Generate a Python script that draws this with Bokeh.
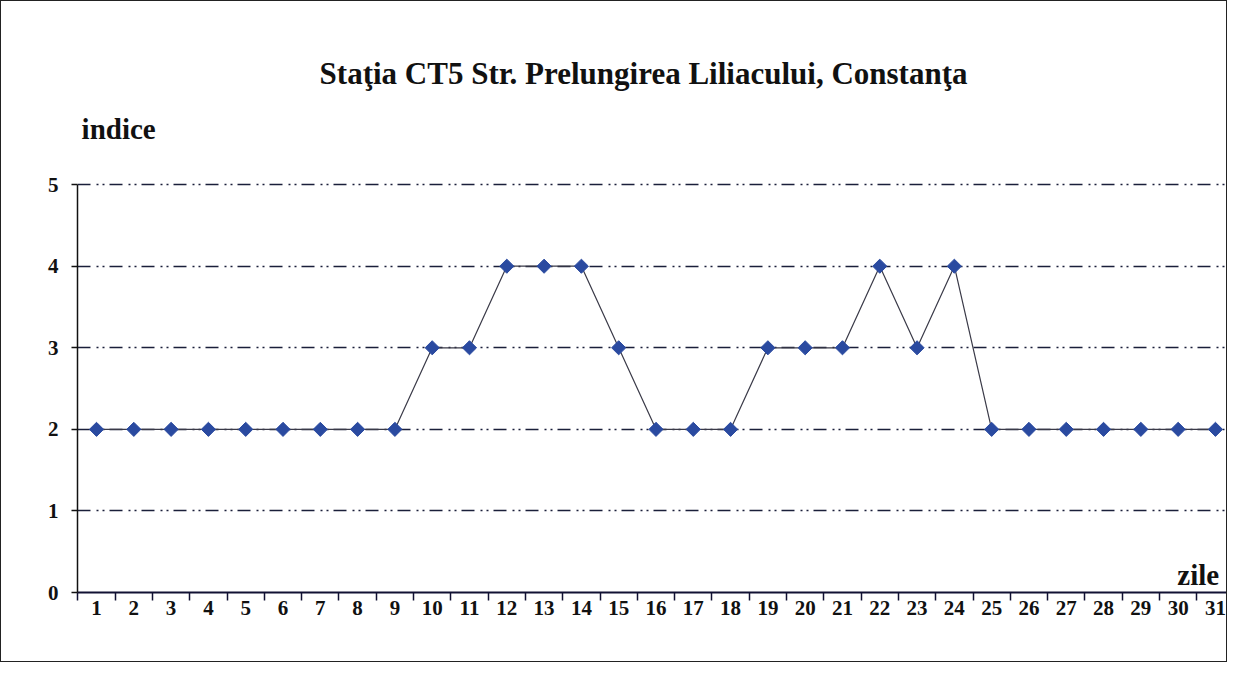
import math
from bokeh.plotting import figure
from bokeh.models import Label, FixedTicker, Range1d
from bokeh.embed import file_html
from bokeh.resources import INLINE

days = list(range(1, 32))
indice = [2, 2, 2, 2, 2, 2, 2, 2, 2, 3, 3, 4, 4, 4, 3, 2, 2, 2, 3, 3, 3, 4, 3, 4, 2, 2, 2, 2, 2, 2, 2]
y_ticks = [0, 1, 2, 3, 4, 5]
title_text = "Staţia CT5 Str. Prelungirea Liliacului,  Constanţa"
y_label = "indice"
x_label = "zile"

SERIF = "Liberation Serif"

p = figure(width=1227, height=662, output_backend="svg", toolbar_location=None,
           x_range=Range1d(0.49, 31.35), y_range=Range1d(0, 7.0),
           min_border_left=76, min_border_right=0, min_border_top=20, min_border_bottom=71)
p.outline_line_color = None
p.background_fill_color = "white"
p.border_fill_color = "white"

# grid
p.xgrid.grid_line_color = None
p.ygrid.grid_line_color = "#1a1f3a"
p.ygrid.grid_line_dash = "13 6 2 4 2 5"
p.ygrid.grid_line_width = 1.3
p.ygrid.ticker = FixedTicker(ticks=y_ticks)

# x axis
p.xaxis.ticker = FixedTicker(ticks=days, minor_ticks=[d - 0.5 for d in days])
p.xaxis.major_tick_out = 0
p.xaxis.major_tick_in = 0
p.xaxis.minor_tick_out = 8
p.xaxis.minor_tick_in = 0
p.xaxis.minor_tick_line_color = "#111133"
p.xaxis.minor_tick_line_width = 1.5
p.xaxis.axis_line_color = "#111133"
p.xaxis.axis_line_width = 2
p.xaxis.major_label_text_font = SERIF
p.xaxis.major_label_text_font_style = "bold"
p.xaxis.major_label_text_font_size = "21px"
p.xaxis.major_label_text_color = "#111111"
p.xaxis.major_label_standoff = 0

# y axis
p.yaxis.ticker = FixedTicker(ticks=y_ticks)
p.yaxis.bounds = (0, 5)
p.yaxis.minor_tick_line_color = None
p.yaxis.major_tick_out = 6
p.yaxis.major_tick_in = 0
p.yaxis.axis_line_color = "#111111"
p.yaxis.axis_line_width = 1.5
p.yaxis.major_tick_line_color = "#111111"
p.yaxis.major_tick_line_width = 1.5
p.yaxis.major_label_text_font = SERIF
p.yaxis.major_label_text_font_style = "bold"
p.yaxis.major_label_text_font_size = "21px"
p.yaxis.major_label_text_color = "#111111"
p.yaxis.major_label_standoff = 13

# data
p.line(days, indice, line_color="#3a3a48", line_width=1.2)
p.scatter(days, indice, marker="square", angle=math.pi / 4, size=10,
          fill_color="#2a4aa0", line_color="#2a4aa0")

# texts
p.add_layout(Label(x=15.77, y=6.36, text=title_text, text_align="center",
                   text_baseline="middle", text_font=SERIF, text_font_style="bold",
                   text_font_size="31px", text_color="#111111"))
p.add_layout(Label(x=0.60, y=5.68, text=y_label, text_align="left",
                   text_baseline="middle", text_font=SERIF, text_font_style="bold",
                   text_font_size="29px", text_color="#111111"))
p.add_layout(Label(x=30.54, y=0.22, text=x_label, text_align="center",
                   text_baseline="middle", text_font=SERIF, text_font_style="bold",
                   text_font_size="29px", text_color="#111111"))

p.styles = {"border": "1.5px solid #222222"}

open("out.html", "w").write(file_html(p, INLINE))
